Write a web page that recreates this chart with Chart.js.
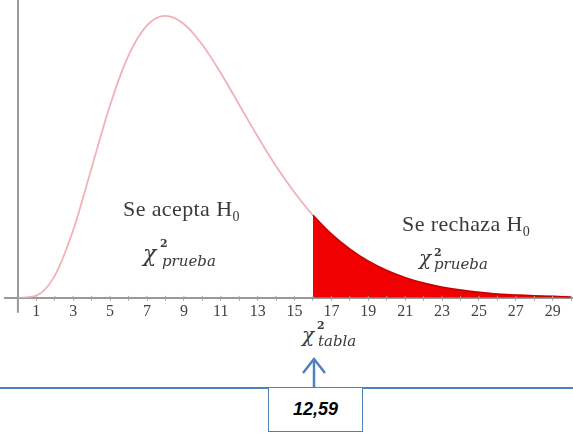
<!DOCTYPE html>
<html>
<head>
<meta charset="utf-8">
<script src="https://cdn.jsdelivr.net/npm/chart.js@4.4.1/dist/chart.umd.min.js"></script>
<style>
  html, body { margin:0; padding:0; background:#fff; }
  body { width:573px; height:436px; position:relative; overflow:hidden; }
  #wrap { position:absolute; left:0; top:0; width:573px; height:322px; }
  .t { position:absolute; white-space:nowrap; line-height:1; color:#3a3a3a; }
  .serif { font-family:'Liberation Serif', 'Times New Roman', serif; }
  .math { font-family:'DejaVu Serif', serif; font-style:italic; }
  .up { font-family:'DejaVu Serif', serif; font-style:normal; font-weight:bold; }
  #hline { position:absolute; left:0; top:387px; width:573px; height:0; border-top:2px solid #4f81bd; }
  #box { position:absolute; left:268px; top:387px; width:93px; height:43px; border:1.5px solid #4f81bd; background:#fff;
         font-family:'Liberation Sans', Arial, sans-serif; font-weight:bold; font-style:italic; font-size:18px; color:#000;
         display:flex; align-items:center; justify-content:center; box-sizing:content-box; }
</style>
</head>
<body>
<div id="wrap"><canvas id="c"></canvas></div>

<div class="t serif" style="left:123px;top:198px;font-size:22px;letter-spacing:0.4px;">Se acepta H<span style="font-size:14px;position:relative;top:5px;">0</span></div>
<div class="t serif" style="left:402px;top:213px;font-size:22px;letter-spacing:0.4px;">Se rechaza H<span style="font-size:14px;position:relative;top:5px;">0</span></div>

<!-- chi^2 prueba (left) -->
<div class="t math" style="left:143px;top:243px;font-size:22px;">χ</div>
<div class="t up" style="left:160px;top:238px;font-size:11px;">2</div>
<div class="t math" style="left:162px;top:254px;font-size:15px;">prueba</div>

<!-- chi^2 prueba (right) -->
<div class="t math" style="left:419px;top:248px;font-size:20px;">χ</div>
<div class="t up" style="left:434px;top:247px;font-size:11px;">2</div>
<div class="t math" style="left:434px;top:257px;font-size:15px;">prueba</div>

<!-- chi^2 tabla -->
<div class="t math" style="left:302px;top:325px;font-size:20px;">χ</div>
<div class="t up" style="left:317px;top:320px;font-size:11px;">2</div>
<div class="t math" style="left:318px;top:334px;font-size:15px;">tabla</div>

<div id="hline"></div>
<svg style="position:absolute;left:0;top:0;" width="573" height="436">
  <line x1="314" y1="388" x2="314" y2="359" stroke="#4f81bd" stroke-width="2.5"/>
  <polyline points="303,373 314,359 325,373" fill="none" stroke="#4f81bd" stroke-width="2.5"/>
</svg>
<div id="box">12,59</div>

<script>
// ---- data ----
const xValues = [0,1,2,3,4,5,6,7,8,9,10,11,12,13,14,15,16,17,18,19,20,21,22,23,24,25,26,27,28,29,30];
const density = [0,0.0008,0.0077,0.0235,0.0451,0.0668,0.0840,0.0944,0.0977,0.0949,0.0877,0.0779,0.0669,0.0559,0.0456,0.0365,0.0286,0.0221,0.0169,0.0127,0.0095,0.0070,0.0051,0.0037,0.0027,0.0019,0.0013,0.0010,0.0007,0.0005,0.0003];
const criticalValue = 16;   // start of rejection region (on the axis)
const tickLabels = ['1','3','5','7','9','11','13','15','17','19','21','23','25','27','29'];

const curve = xValues.map((x, i) => ({ x: x, y: density[i] }));
const reject = curve.filter(p => p.x >= criticalValue);

const extras = {
  id: 'extras',
  afterDraw(chart) {
    const { ctx, chartArea, scales } = chart;
    const x0 = scales.x.getPixelForValue(0);
    ctx.save();
    ctx.strokeStyle = '#999';
    ctx.lineWidth = 2;
    ctx.beginPath();
    ctx.moveTo(x0, chartArea.bottom);
    ctx.lineTo(x0, chartArea.bottom + 15);
    ctx.stroke();
    ctx.lineWidth = 1;
    ctx.strokeStyle = '#aaa';
    for (let v = 1; v <= 30; v++) {
      const px = scales.x.getPixelForValue(v);
      ctx.beginPath();
      ctx.moveTo(px, chartArea.bottom - 2);
      ctx.lineTo(px, chartArea.bottom);
      ctx.stroke();
    }
    ctx.restore();
  }
};

new Chart(document.getElementById('c'), {
  type: 'line',
  data: {
    datasets: [
      {
        data: reject,
        borderColor: '#c40000',
        borderWidth: 1.5,
        backgroundColor: 'rgb(240,0,0)',
        fill: 'origin',
        pointRadius: 0,
        cubicInterpolationMode: 'monotone'
      },
      {
        data: curve,
        borderColor: '#f2b0b8',
        borderWidth: 1.8,
        fill: false,
        pointRadius: 0,
        cubicInterpolationMode: 'monotone'
      }
    ]
  },
  options: {
    responsive: true,
    maintainAspectRatio: false,
    animation: false,
    layout: { padding: { left: 5, right: 0, top: 0, bottom: 0 } },
    plugins: { legend: { display: false }, tooltip: { enabled: false } },
    scales: {
      x: {
        type: 'linear',
        min: -0.7,
        max: 30.1,
        afterBuildTicks: (axis) => {
          axis.ticks = xValues.filter(v => v >= 1).map(v => ({ value: v }));
        },
        grid: { display: true, drawOnChartArea: false, drawTicks: true, tickLength: 3, color: '#aaa' },
        border: { display: true, color: '#999', width: 2 },
        ticks: {
          autoSkip: false,
          maxRotation: 0,
          padding: 1,
          color: '#444',
          font: { family: "'Liberation Serif', serif", size: 16 },
          callback: (v) => tickLabels.includes(String(v)) ? String(v) : ''
        }
      },
      y: {
        type: 'linear',
        position: { x: 0 },
        min: 0,
        max: 0.1032,
        grid: { display: false },
        border: { display: true, color: '#999', width: 2 },
        ticks: { display: false }
      }
    }
  },
  plugins: [extras]
});
</script>
</body>
</html>
